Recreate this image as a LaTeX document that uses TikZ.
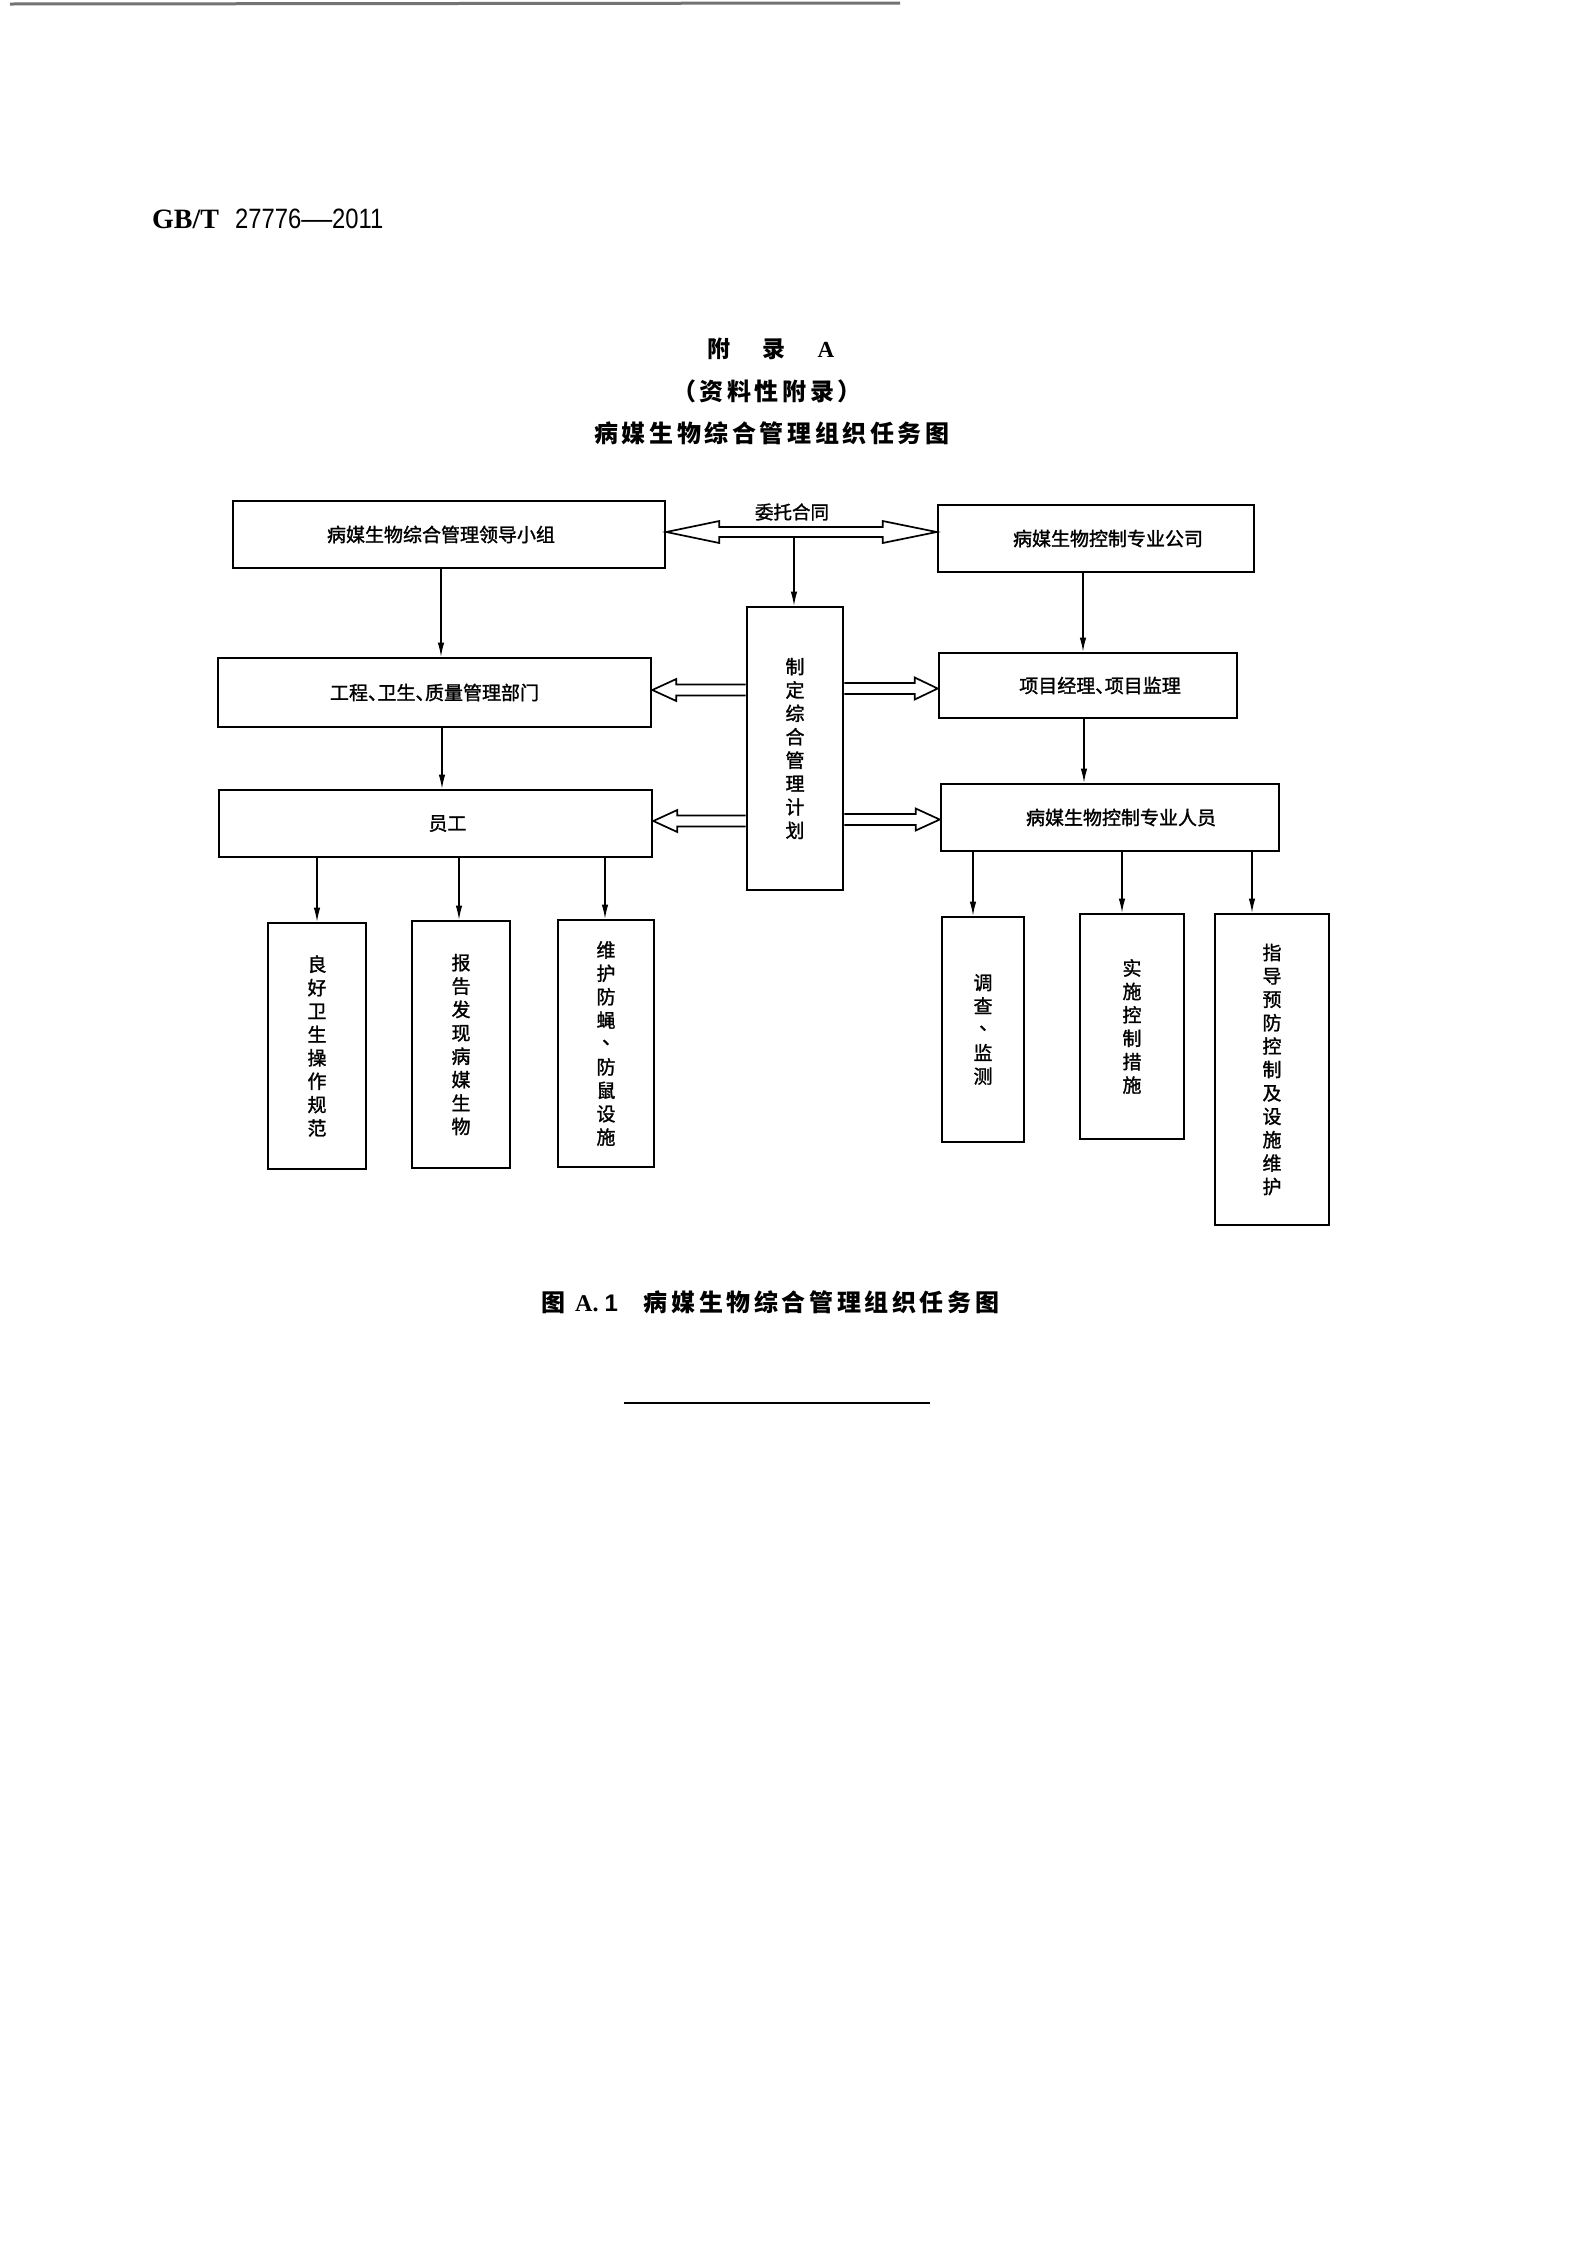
\documentclass[tikz,border=0pt]{standalone}
\usepackage{fontspec}
\setmainfont{Liberation Serif}
\newfontfamily\cjk[FakeBold=1.4]{Noto Sans CJK SC}
\newfontfamily\cjkh{Noto Sans CJK SC}
\newfontfamily\cjkt[LetterSpace=15]{Noto Sans CJK SC}
\newfontfamily\gbnum[FakeStretch=0.85]{Liberation Sans}
\newfontfamily\lsans{Liberation Sans}
\usetikzlibrary{arrows.meta,calc}
\newcommand\vdun{\makebox[1em][l]{\hspace{.3em}\raisebox{.35em}{、}}}
\begin{document}
\begin{tikzpicture}[x=1pt,y=-1pt,
  box/.style={draw, line width=2.6pt, inner sep=0pt, font=\cjk\fontsize{19}{23.4}\selectfont, align=center},
  arr/.style={line width=1.3pt, -{Latex[length=14pt,width=6.5pt]}},
  hollow/.style={line width=1.7pt, line join=miter},
  ttl/.style={inner sep=0pt, font=\cjkt\bfseries\fontsize{24}{28}\selectfont},
]
\useasboundingbox (0,0) rectangle (1587,2244);
\fill[white] (0,0) rectangle (1587,2244);
% scan edge line
\draw[black!55, line width=3pt] (10,4) -- (900,3);

% header
\node[anchor=base west, inner sep=0pt] (std) at (152,228)
  {{\fontsize{28}{30}\selectfont\bfseries GB/T}\hspace{16pt}{\gbnum\fontsize{28}{30}\selectfont 27776\scalebox{1.3}[1]{—}2011}};

% titles
\node[inner sep=0pt, font=\cjkh\bfseries\fontsize{23}{26}\selectfont] (t1) at (771,349)
  {附\hspace{32pt}录\hspace{32pt}{\rmfamily\bfseries A}};
\node[ttl] (t2) at (767,391) {（资料性附录）};
\node[ttl] (t3) at (772,433) {病媒生物综合管理组织任务图};

% left column
\node[box, minimum width=432pt, minimum height=67pt] (L1) at (449,534.5) {病媒生物综合管理领导小组\hspace*{16pt}};
\node[box, minimum width=433pt, minimum height=69pt] (L2) at (434.5,692.5) {工程、\kern-.5em卫生、\kern-.5em质量管理部门};
\node[box, minimum width=433pt, minimum height=67pt] (L3) at (435.5,823.5) {\hspace*{24pt}员工};

% middle
\node[box, minimum width=96pt, minimum height=283pt] (M) at (795,748.5) {制\\定\\综\\合\\管\\理\\计\\划};

% right column
\node[box, minimum width=316pt, minimum height=67pt] (R1) at (1096,538.5) {\hspace*{24pt}病媒生物控制专业公司};
\node[box, minimum width=298pt, minimum height=65pt] (R2) at (1088,685.5) {\hspace*{24pt}项目经理、\kern-.5em项目监理};
\node[box, minimum width=338pt, minimum height=67pt] (R3) at (1110,817.5) {\hspace*{22pt}病媒生物控制专业人员};

% bottom boxes
\node[box, minimum width=98pt, minimum height=246pt] (B1) at (317,1046) {良\\好\\卫\\生\\操\\作\\规\\范};
\node[box, minimum width=98pt, minimum height=247pt] (B2) at (461,1044.5) {报\\告\\发\\现\\病\\媒\\生\\物};
\node[box, minimum width=96pt, minimum height=247pt] (B3) at (606,1043.5) {维\\护\\防\\蝇\\\vdun\\防\\鼠\\设\\施};
\node[box, minimum width=82pt, minimum height=225pt] (B4) at (983,1029.5) {调\\查\\\vdun\\监\\测};
\node[box, minimum width=104pt, minimum height=225pt] (B5) at (1132,1026.5) {实\\施\\控\\制\\措\\施};
\node[box, minimum width=114pt, minimum height=311pt] (B6) at (1272,1069.5) {指\\导\\预\\防\\控\\制\\及\\设\\施\\维\\护};

% contract double arrow
\coordinate (T1) at (L1.east |- 0,532);
\coordinate (T2) at (R1.west |- 0,532);
\draw[hollow] (T1) -- ($(T1)+(53,-11)$) -- ($(T1)+(53,-5)$) -- ($(T2)+(-54,-5)$) -- ($(T2)+(-54,-11)$)
  -- (T2) -- ($(T2)+(-54,11)$) -- ($(T2)+(-54,5)$) -- ($(T1)+(53,5)$) -- ($(T1)+(53,11)$) -- cycle;
\node[inner sep=0pt, font=\cjk\fontsize{18.5}{22}\selectfont] (wtl) at (792,512) {委托合同};
\coordinate (wt) at (794,537);
\draw[arr] (wt) -- (M.north -| wt);

% plan arrows
\coordinate (a2) at (L2.east |- 0,690);
\draw[hollow] (M.west |- 0,684.5) -- ($(a2)+(24,-5.5)$) -- ($(a2)+(24,-11)$) -- (a2) -- ($(a2)+(24,11)$) -- ($(a2)+(24,5.5)$) -- (M.west |- 0,695.5);
\coordinate (a3) at (L3.east |- 0,821);
\draw[hollow] (M.west |- 0,815.5) -- ($(a3)+(24,-5.5)$) -- ($(a3)+(24,-11)$) -- (a3) -- ($(a3)+(24,11)$) -- ($(a3)+(24,5.5)$) -- (M.west |- 0,826.5);
\coordinate (a4) at (R2.west |- 0,688.5);
\draw[hollow] (M.east |- 0,683) -- ($(a4)+(-23,-5.5)$) -- ($(a4)+(-23,-11)$) -- (a4) -- ($(a4)+(-23,11)$) -- ($(a4)+(-23,5.5)$) -- (M.east |- 0,694);
\coordinate (a5) at (R3.west |- 0,819.5);
\draw[hollow] (M.east |- 0,814) -- ($(a5)+(-24,-5.5)$) -- ($(a5)+(-24,-11)$) -- (a5) -- ($(a5)+(-24,11)$) -- ($(a5)+(-24,5.5)$) -- (M.east |- 0,825);

% vertical arrows
\draw[arr] (L1.south -| 441,0) -- (L2.north -| 441,0);
\draw[arr] (L2.south -| 442,0) -- (L3.north -| 442,0);
\draw[arr] (R1.south -| 1083,0) -- (R2.north -| 1083,0);
\draw[arr] (R2.south -| 1084,0) -- (R3.north -| 1084,0);
\draw[arr] (L3.south -| B1.north) -- (B1.north);
\draw[arr] (L3.south -| 459,0) -- (B2.north -| 459,0);
\draw[arr] (L3.south -| 605,0) -- (B3.north -| 605,0);
\draw[arr] (R3.south -| 973,0) -- (B4.north -| 973,0);
\draw[arr] (R3.south -| 1122,0) -- (B5.north -| 1122,0);
\draw[arr] (R3.south -| 1252,0) -- (B6.north -| 1252,0);

% caption
\node[anchor=west, inner sep=0pt, font=\cjkh\bfseries\fontsize{24}{28}\selectfont] (cap) at (541,1302)
  {图\hspace{10pt}{\rmfamily\bfseries A.}\hspace{6pt}{\lsans 1}\hspace{26pt}{\cjkt 病媒生物综合管理组织任务图}};
\draw[line width=2.6pt] (624,1403) -- (930,1403);
\end{tikzpicture}
\end{document}
